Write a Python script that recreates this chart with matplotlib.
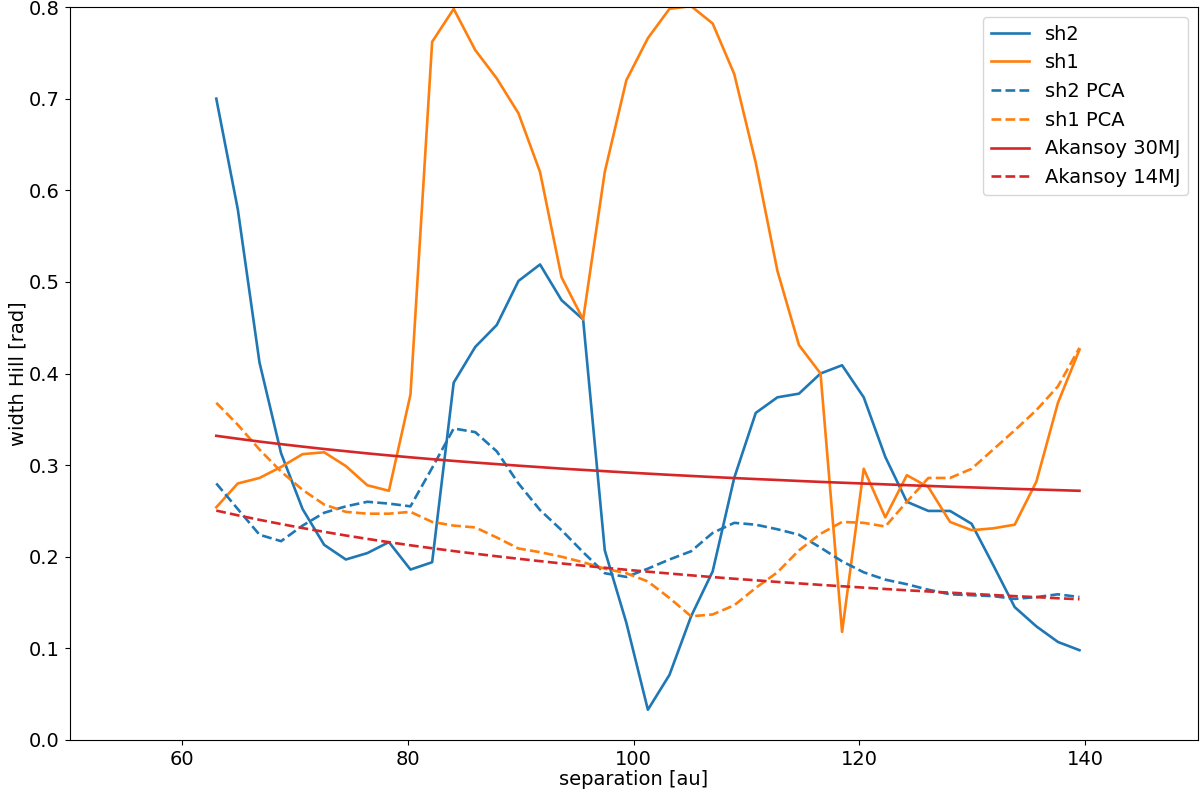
import numpy as np
import matplotlib as mpl
mpl.use("Agg")
import matplotlib.pyplot as plt

# separation values [au]
sep = [63.0, 64.91, 66.83, 68.74, 70.65, 72.56, 74.48, 76.39, 78.30, 80.21,
       82.13, 84.04, 85.95, 87.86, 89.78, 91.69, 93.60, 95.51, 97.43, 99.34,
       101.25, 103.16, 105.08, 106.99, 108.90, 110.81, 112.73, 114.64, 116.55, 118.46,
       120.38, 122.29, 124.20, 126.11, 128.03, 129.94, 131.85, 133.76, 135.68, 137.59,
       139.5]

sh2 = [0.700, 0.579, 0.412, 0.313, 0.252, 0.213, 0.197, 0.204, 0.216, 0.186,
       0.194, 0.390, 0.429, 0.453, 0.501, 0.519, 0.480, 0.459, 0.207, 0.128,
       0.033, 0.071, 0.135, 0.184, 0.286, 0.357, 0.374, 0.378, 0.400, 0.409,
       0.374, 0.309, 0.260, 0.250, 0.250, 0.236, 0.191, 0.145, 0.124, 0.107,
       0.098]

sh1 = [0.254, 0.280, 0.286, 0.298, 0.312, 0.314, 0.299, 0.278, 0.272, 0.377,
       0.762, 0.798, 0.753, 0.722, 0.684, 0.620, 0.505, 0.459, 0.620, 0.720,
       0.766, 0.798, 0.801, 0.782, 0.727, 0.630, 0.512, 0.431, 0.400, 0.118,
       0.296, 0.243, 0.289, 0.276, 0.238, 0.229, 0.231, 0.235, 0.282, 0.368,
       0.426]

sh2_pca = [0.280, 0.252, 0.224, 0.217, 0.234, 0.248, 0.255, 0.260, 0.258, 0.255,
           0.297, 0.340, 0.336, 0.315, 0.280, 0.251, 0.229, 0.205, 0.182, 0.178,
           0.187, 0.197, 0.206, 0.226, 0.237, 0.235, 0.230, 0.224, 0.210, 0.195,
           0.183, 0.175, 0.170, 0.164, 0.159, 0.158, 0.157, 0.154, 0.156, 0.159,
           0.156]

sh1_pca = [0.368, 0.344, 0.317, 0.293, 0.273, 0.257, 0.249, 0.247, 0.247, 0.249,
           0.238, 0.234, 0.232, 0.221, 0.209, 0.205, 0.200, 0.194, 0.187, 0.182,
           0.173, 0.155, 0.135, 0.137, 0.147, 0.166, 0.183, 0.207, 0.225, 0.238,
           0.237, 0.233, 0.260, 0.286, 0.286, 0.296, 0.317, 0.338, 0.360, 0.386,
           0.428]

akansoy_30 = [0.3320, 0.3288, 0.3257, 0.3229, 0.3202, 0.3176, 0.3152, 0.3128, 0.3106, 0.3085,
              0.3065, 0.3046, 0.3028, 0.3011, 0.2994, 0.2978, 0.2962, 0.2948, 0.2934, 0.2920,
              0.2907, 0.2894, 0.2882, 0.2870, 0.2859, 0.2848, 0.2838, 0.2827, 0.2817, 0.2808,
              0.2799, 0.2790, 0.2781, 0.2773, 0.2764, 0.2757, 0.2749, 0.2741, 0.2734, 0.2727,
              0.2720]

akansoy_14 = [0.2504, 0.2452, 0.2403, 0.2357, 0.2313, 0.2272, 0.2232, 0.2195, 0.2159, 0.2125,
              0.2093, 0.2062, 0.2033, 0.2005, 0.1978, 0.1952, 0.1927, 0.1903, 0.1880, 0.1858,
              0.1837, 0.1817, 0.1797, 0.1778, 0.1760, 0.1743, 0.1725, 0.1709, 0.1693, 0.1678,
              0.1663, 0.1648, 0.1634, 0.1621, 0.1608, 0.1595, 0.1582, 0.1570, 0.1559, 0.1547,
              0.1536]

mpl.rcParams.update({'font.size': 14, 'axes.labelsize': 14,
                     'xtick.labelsize': 14, 'ytick.labelsize': 14,
                     'legend.fontsize': 14, 'lines.linewidth': 1.9})

fig = plt.figure(figsize=(12, 7.98), dpi=100)
ax = fig.add_axes([0.058, 0.0727, 0.9403, 0.9185])

ax.plot(sep, sh2, color='tab:blue', label='sh2')
ax.plot(sep, sh1, color='tab:orange', label='sh1')
ax.plot(sep, sh2_pca, '--', color='tab:blue', label='sh2 PCA')
ax.plot(sep, sh1_pca, '--', color='tab:orange', label='sh1 PCA')
ax.plot(sep, akansoy_30, color='tab:red', label='Akansoy 30MJ')
ax.plot(sep, akansoy_14, '--', color='tab:red', label='Akansoy 14MJ')

ax.set_xlim(50, 150)
ax.set_ylim(0, 0.8)
ax.set_xticks([60, 80, 100, 120, 140])
ax.set_yticks(np.arange(0, 0.81, 0.1))
ax.set_xlabel('separation [au]', labelpad=1)
ax.set_ylabel('width Hill [rad]', labelpad=1)
ax.legend(loc='upper right')

plt.savefig("out.png", dpi=100)
